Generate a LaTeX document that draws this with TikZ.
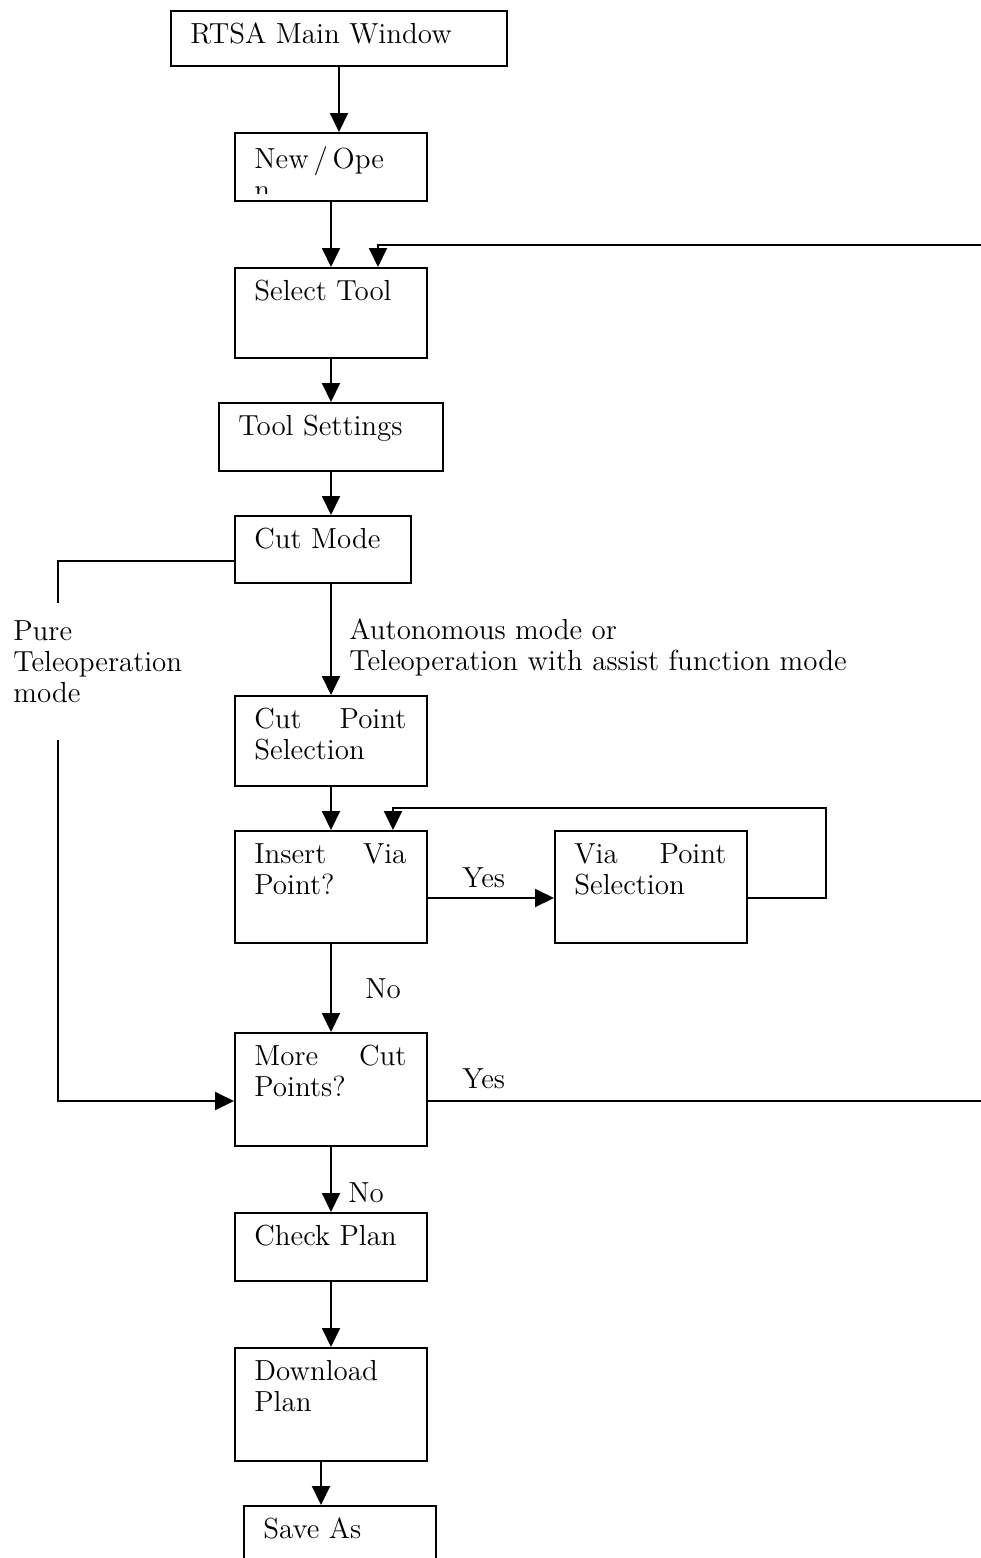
\documentclass[tikz,border=0pt]{standalone}
\usetikzlibrary{arrows.meta,calc,positioning}
\tikzset{
  box/.style={draw,line width=1pt,anchor=north west,inner sep=0pt},
  txt/.style={anchor=north west,inner xsep=10pt,inner ysep=6.4pt,font=\fontsize{14.5}{15.5}\selectfont},
  jtxt/.style={txt,text width=76pt,align=justify},
  lbl/.style={inner sep=0pt,font=\fontsize{14.5}{15.5}\selectfont},
  arr/.style={line width=1pt,-{Triangle[width=9pt,length=9.5pt]}},
  ln/.style={line width=1pt}
}
\begin{document}
\begin{tikzpicture}[x=0.5pt,y=-0.5pt]
    \useasboundingbox (0,0) rectangle (980,1558);

    % boxes
    \node[box,minimum width=168pt,minimum height=27.5pt] (main) at (170,10) {};
    \node[box,minimum width=96pt,minimum height=34pt] (open) at (234,132) {};
    \node[box,minimum width=96pt,minimum height=45pt] (tool) at (234,267) {};
    \node[box,minimum width=112pt,minimum height=34pt] (set) at (218,402) {};
    \node[box,minimum width=88pt,minimum height=33.5pt] (mode) at (234,515) {};
    \node[box,minimum width=96pt,minimum height=45pt] (cutpt) at (234,695) {};
    \node[box,minimum width=96pt,minimum height=56pt] (insert) at (234,830) {};
    \node[box,minimum width=96pt,minimum height=56pt] (via) at (554,830) {};
    \node[box,minimum width=96pt,minimum height=56.5pt] (more) at (234,1032) {};
    \node[box,minimum width=96pt,minimum height=34pt] (check) at (234,1212) {};
    \node[box,minimum width=96pt,minimum height=56.5pt] (down) at (234,1347) {};
    \node[box,minimum width=96pt,minimum height=40pt] (save) at (243,1505) {};

    % box texts
    \node[txt] (main-t) at (main.north west) {RTSA Main Window};
    \begin{scope}
      \clip (open.north west) rectangle ([yshift=4.5pt]open.south east);
      \node[txt,text width=76pt,align=left,yshift=-1pt] (open-t) at (open.north west) {New\,/\,Ope\\n};
    \end{scope}
    \node[txt] (tool-t) at (tool.north west) {Select Tool};
    \node[txt] (set-t) at (set.north west) {Tool Settings};
    \node[txt] (mode-t) at (mode.north west) {Cut Mode};
    \node[jtxt] (cutpt-t) at (cutpt.north west) {Cut Point Selection};
    \node[jtxt] (insert-t) at (insert.north west) {Insert Via Point?};
    \node[jtxt] (via-t) at (via.north west) {Via Point Selection};
    \node[jtxt] (more-t) at (more.north west) {More Cut Points?};
    \node[txt] (check-t) at (check.north west) {Check Plan};
    \node[txt,text width=76pt,align=left] (down-t) at (down.north west) {Download Plan};
    \node[txt] (save-t) at (save.north west) {Save As};

    % labels
    \node[lbl,anchor=north west,align=left] (pure) at (13,620) {Pure\\Teleoperation\\mode};
    \node[lbl,anchor=north west,align=left] (auto) at (349,618) {Autonomous mode or\\Teleoperation with assist function mode};
    \node[lbl,anchor=base west] (yes1) at (462,887) {Yes};
    \node[lbl,anchor=base west] (no1) at (365,998) {No};
    \node[lbl,anchor=base west] (yes2) at (462,1088) {Yes};
    \node[lbl,anchor=base west] (no2) at (348,1202) {No};

    % connectors
    \coordinate (back) at (378,245);
    \coordinate (edgeR) at (992,245);
    \coordinate (teleA) at (58,603);
    \coordinate (teleB) at (58,740);
    \coordinate (loopR) at (826,808);
    \coordinate (loopL) at (393,808);
    \coordinate (dl) at ([xshift=-5pt]down.south);

    \draw[arr] (main.south) -- (main.south |- open.north);
    \draw[arr] (open.south) -- (tool.north);
    \draw[arr] (tool.south) -- (set.north);
    \draw[arr] (set.south) -- (set.south |- mode.north);
    \draw[arr] (mode.south -| cutpt.north) -- (cutpt.north);
    \draw[ln] ([yshift=-5.75pt]mode.west) -| (teleA);
    \draw[arr] (teleB) |- ([yshift=-5.75pt]more.west);
    \draw[arr] (cutpt.south) -- (insert.north);
    \draw[arr] ([yshift=-5.5pt]insert.east) -- ([yshift=-5.5pt]via.west);
    \draw[arr] ([yshift=-5.5pt]via.east) -| (loopR) -- (loopL) -- (loopL |- insert.north);
    \draw[arr] (insert.south) -- (more.north);
    \draw[arr] ([yshift=-5.75pt]more.east) -| (edgeR) -- (back) -- (back |- tool.north);
    \draw[arr] (more.south) -- (check.north);
    \draw[arr] (check.south) -- (down.north);
    \draw[arr] (dl) -- (dl |- save.north);
\end{tikzpicture}
\end{document}
